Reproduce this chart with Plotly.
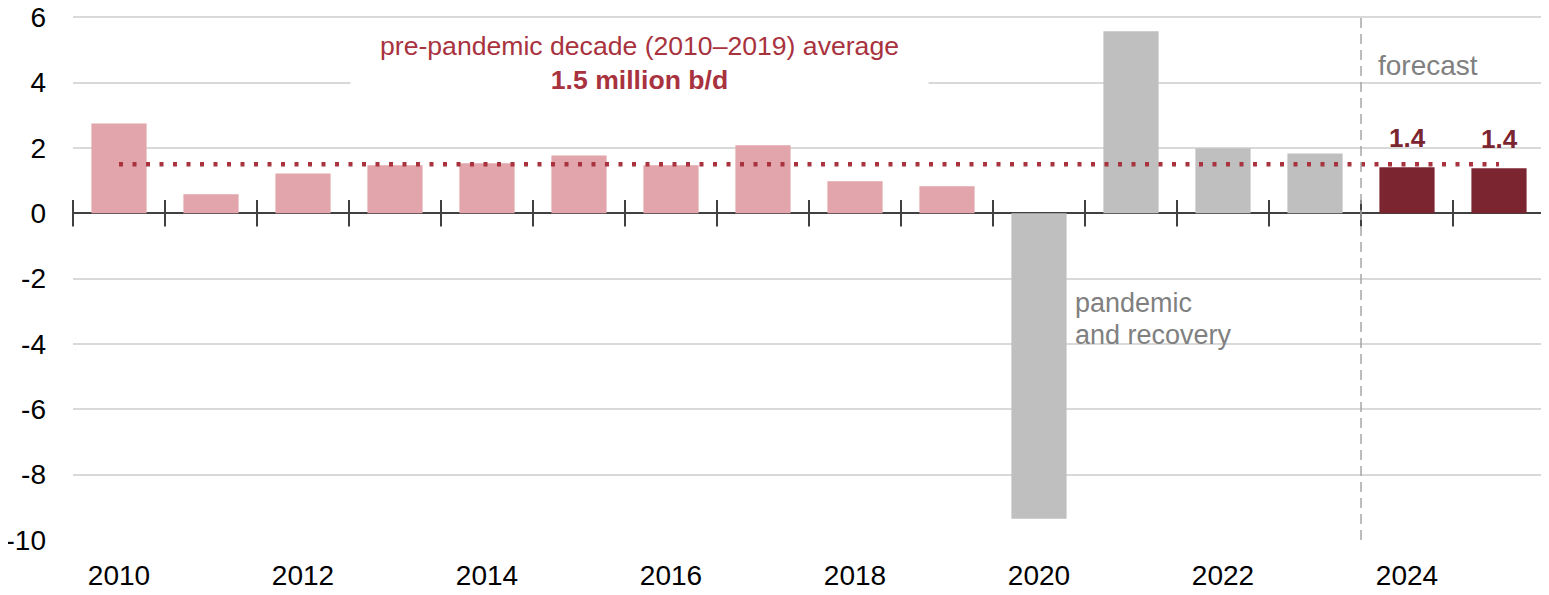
import plotly.graph_objects as go

# annual change, million barrels per day
years = list(range(2010, 2026))
change = [2.75, 0.58, 1.22, 1.47, 1.53, 1.77, 1.47, 2.08, 0.98, 0.83,
          -9.35, 5.57, 1.99, 1.83, 1.41, 1.38]
period = ["pre"] * 10 + ["pandemic"] * 4 + ["forecast"] * 2
forecast_labels = ["1.4", "1.4"]

pre_pandemic_avg = 1.5
forecast_start = 2023.5
tick_years = list(range(2010, 2025, 2))
y_ticks = list(range(-10, 7, 2))

PINK = "#e2a5ab"
GREY = "#bfbfbf"
DARK = "#7b2530"
RED = "#a8323e"
FONT = "Arial, Liberation Sans, sans-serif"

colors = {"pre": PINK, "pandemic": GREY, "forecast": DARK}

fig = go.Figure()

fig.add_trace(go.Bar(
    x=years,
    y=change,
    width=0.6,
    marker=dict(color=[colors[p] for p in period], line=dict(width=0)),
    hoverinfo="x+y",
))

# pre-pandemic average as a dotted line across the chart
fig.add_trace(go.Scatter(
    x=[years[0], years[-1]],
    y=[pre_pandemic_avg, pre_pandemic_avg],
    mode="lines",
    line=dict(color=RED, width=4.5, dash="4px,9.5px"),
    hoverinfo="skip",
))

# tick marks crossing the zero line at category boundaries
boundaries = [y - 0.5 for y in years] + [years[-1] + 0.5]
fig.add_trace(go.Scatter(
    x=boundaries,
    y=[0] * len(boundaries),
    mode="markers",
    marker=dict(symbol="line-ns", size=19, line=dict(color="#404040", width=2)),
    cliponaxis=False,
    hoverinfo="skip",
))

# forecast divider
fig.add_trace(go.Scatter(
    x=[forecast_start, forecast_start],
    y=[-10, 6],
    mode="lines",
    line=dict(color="#a6a6a6", width=1.5, dash="10px,6px"),
    hoverinfo="skip",
))

fig.add_annotation(
    x=2015.66, y=4.6, xref="x", yref="y",
    text="pre-pandemic decade (2010–2019) average<br><b>1.5 million b/d</b>",
    showarrow=False,
    font=dict(family=FONT, size=26.6, color=RED),
    bgcolor="white", width=575, height=72, align="center",
)
fig.add_annotation(
    x=2023.66, y=4.53, xref="x", yref="y", xanchor="left",
    text="forecast", showarrow=False,
    font=dict(family=FONT, size=28, color="#808080"),
)
fig.add_annotation(
    x=2020.37, y=-2.76, xref="x", yref="y", xanchor="left",
    text="pandemic", showarrow=False,
    font=dict(family=FONT, size=27, color="#808080"),
)
fig.add_annotation(
    x=2020.37, y=-3.74, xref="x", yref="y", xanchor="left",
    text="and recovery", showarrow=False,
    font=dict(family=FONT, size=27, color="#808080"),
)
for yr, val, lab in zip(years[-2:], change[-2:], forecast_labels):
    fig.add_annotation(
        x=yr, y=val, xref="x", yref="y", yanchor="bottom", yshift=12,
        text=f"<b>{lab}</b>", showarrow=False,
        font=dict(family=FONT, size=26, color=DARK),
    )

# the page body adds an 8px margin, so the figure is drawn 8px smaller
fig.update_layout(
    width=1541,
    height=587,
    margin=dict(l=65, r=4, t=6, b=55),
    paper_bgcolor="white",
    plot_bgcolor="white",
    showlegend=False,
    font=dict(family=FONT, size=28, color="black"),
    xaxis=dict(
        range=[2009.5, 2025.5],
        tickvals=tick_years,
        ticktext=[str(y) for y in tick_years],
        showgrid=False,
        zeroline=False,
        showline=False,
        ticks="",
        ticklabelstandoff=16,
        automargin=False,
        tickfont=dict(size=28, color="black"),
    ),
    yaxis=dict(
        range=[-10, 6.1],
        tickvals=y_ticks,
        ticktext=[str(v) for v in y_ticks],
        showgrid=True,
        gridcolor="#d9d9d9",
        gridwidth=2,
        zeroline=True,
        zerolinecolor="#404040",
        zerolinewidth=2,
        showline=False,
        ticks="",
        ticklabelstandoff=26,
        ticklabeloverflow="allow",
        automargin=False,
        tickfont=dict(size=28, color="black"),
    ),
)

fig.write_html("out.html")
